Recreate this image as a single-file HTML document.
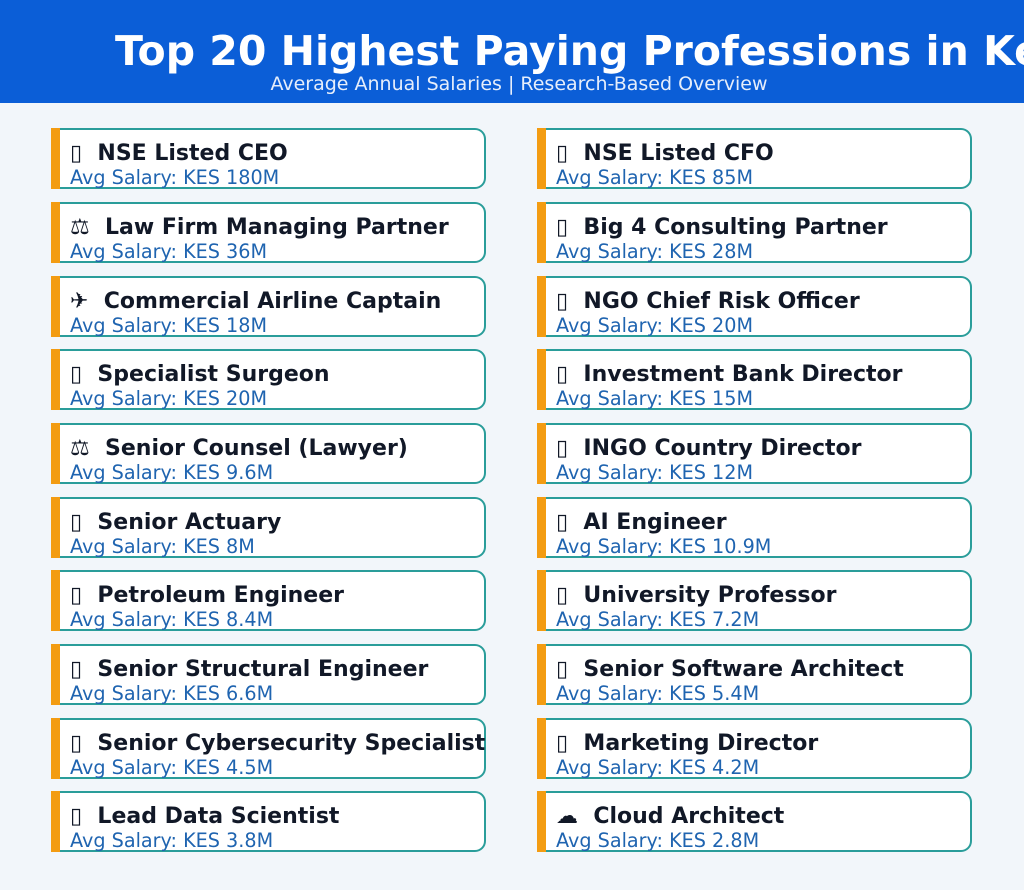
<!DOCTYPE html>
<html><head><meta charset="utf-8"><style>
body{margin:0;width:1024px;height:890px;background:#f2f6fa;position:relative;overflow:hidden;font-family:"DejaVu Sans","Liberation Sans",sans-serif}
.hdr{position:absolute;left:0;top:0;width:1024px;height:103px;background:#0b5ed7;overflow:hidden}
.t{position:absolute;left:115px;top:31px;font-size:41px;font-weight:bold;color:#fff;white-space:nowrap;line-height:1}
.s{position:absolute;left:0;width:1038px;text-align:center;top:75px;font-size:19px;color:#e6eefb;line-height:1}
.c{position:absolute;width:428px;height:57px;background:#fff;border:2px solid #2a9d9a;border-left:none;border-radius:0 11px 11px 0}
.c::before{content:"";position:absolute;left:-5px;top:-2px;width:9px;height:61px;background:#f39c12}
.n{position:absolute;left:14px;top:13px;font-size:22px;font-weight:bold;color:#111827;white-space:nowrap;line-height:1}
.v{position:absolute;left:14px;top:38px;font-size:19.2px;color:#1f64b0;white-space:nowrap;line-height:1}
</style></head><body>
<div class="hdr"><div class="t">Top 20 Highest Paying Professions in Kenya</div><div class="s">Average Annual Salaries | Research-Based Overview</div></div>

<div class="c" style="left:56px;top:128px"><div class="n">▯&nbsp; NSE Listed CEO</div><div class="v">Avg Salary: KES 180M</div></div>
<div class="c" style="left:542px;top:128px"><div class="n">▯&nbsp; NSE Listed CFO</div><div class="v">Avg Salary: KES 85M</div></div>

<div class="c" style="left:56px;top:202px"><div class="n">⚖&nbsp; Law Firm Managing Partner</div><div class="v">Avg Salary: KES 36M</div></div>
<div class="c" style="left:542px;top:202px"><div class="n">▯&nbsp; Big 4 Consulting Partner</div><div class="v">Avg Salary: KES 28M</div></div>

<div class="c" style="left:56px;top:276px"><div class="n">✈&nbsp; Commercial Airline Captain</div><div class="v">Avg Salary: KES 18M</div></div>
<div class="c" style="left:542px;top:276px"><div class="n">▯&nbsp; NGO Chief Risk Officer</div><div class="v">Avg Salary: KES 20M</div></div>

<div class="c" style="left:56px;top:349px"><div class="n">▯&nbsp; Specialist Surgeon</div><div class="v">Avg Salary: KES 20M</div></div>
<div class="c" style="left:542px;top:349px"><div class="n">▯&nbsp; Investment Bank Director</div><div class="v">Avg Salary: KES 15M</div></div>

<div class="c" style="left:56px;top:423px"><div class="n">⚖&nbsp; Senior Counsel (Lawyer)</div><div class="v">Avg Salary: KES 9.6M</div></div>
<div class="c" style="left:542px;top:423px"><div class="n">▯&nbsp; INGO Country Director</div><div class="v">Avg Salary: KES 12M</div></div>

<div class="c" style="left:56px;top:497px"><div class="n">▯&nbsp; Senior Actuary</div><div class="v">Avg Salary: KES 8M</div></div>
<div class="c" style="left:542px;top:497px"><div class="n">▯&nbsp; AI Engineer</div><div class="v">Avg Salary: KES 10.9M</div></div>

<div class="c" style="left:56px;top:570px"><div class="n">▯&nbsp; Petroleum Engineer</div><div class="v">Avg Salary: KES 8.4M</div></div>
<div class="c" style="left:542px;top:570px"><div class="n">▯&nbsp; University Professor</div><div class="v">Avg Salary: KES 7.2M</div></div>

<div class="c" style="left:56px;top:644px"><div class="n">▯&nbsp; Senior Structural Engineer</div><div class="v">Avg Salary: KES 6.6M</div></div>
<div class="c" style="left:542px;top:644px"><div class="n">▯&nbsp; Senior Software Architect</div><div class="v">Avg Salary: KES 5.4M</div></div>

<div class="c" style="left:56px;top:718px"><div class="n">▯&nbsp; Senior Cybersecurity Specialist</div><div class="v">Avg Salary: KES 4.5M</div></div>
<div class="c" style="left:542px;top:718px"><div class="n">▯&nbsp; Marketing Director</div><div class="v">Avg Salary: KES 4.2M</div></div>

<div class="c" style="left:56px;top:791px"><div class="n">▯&nbsp; Lead Data Scientist</div><div class="v">Avg Salary: KES 3.8M</div></div>
<div class="c" style="left:542px;top:791px"><div class="n">☁&nbsp; Cloud Architect</div><div class="v">Avg Salary: KES 2.8M</div></div>
</body></html>
